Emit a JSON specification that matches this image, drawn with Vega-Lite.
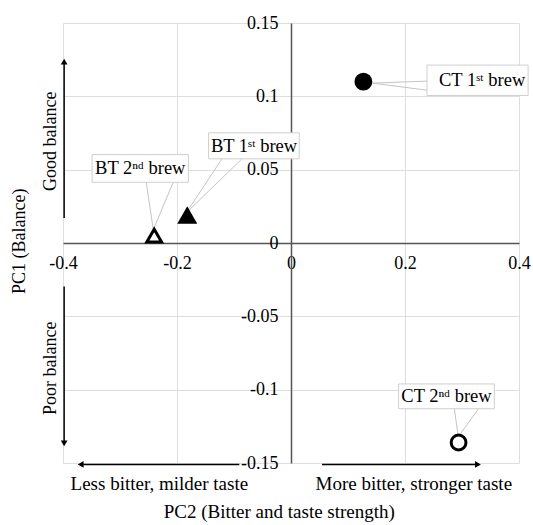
{
  "$schema": "https://vega.github.io/schema/vega-lite/v6.json",
  "width": 456,
  "height": 440,
  "autosize": {"type": "none"},
  "padding": {"left": 63, "top": 23, "right": 14, "bottom": 62},
  "config": {"view": {"stroke": null}, "font": "Liberation Serif", "axis": {"labelFont": "Liberation Serif"}},
  "datasets": {
    "points": [
      {"label": "CT 1st brew", "tea": "CT", "brew": "1st", "pc2": 0.127, "pc1": 0.110},
      {"label": "BT 1st brew", "tea": "BT", "brew": "1st", "pc2": -0.182, "pc1": 0.0186},
      {"label": "BT 2nd brew", "tea": "BT", "brew": "2nd", "pc2": -0.240, "pc1": 0.0050},
      {"label": "CT 2nd brew", "tea": "CT", "brew": "2nd", "pc2": 0.294, "pc1": -0.136}
    ],
    "boxes": [
      {"label": "BT 2nd brew", "x1": -0.349, "x2": -0.180, "y1": 0.0414, "y2": 0.0603},
      {"label": "BT 1st brew", "x1": -0.1446, "x2": 0.0145, "y1": 0.0574, "y2": 0.0751},
      {"label": "CT 1st brew", "x1": 0.2386, "x2": 0.416, "y1": 0.1006, "y2": 0.1213},
      {"label": "CT 2nd brew", "x1": 0.1888, "x2": 0.3567, "y1": -0.113, "y2": -0.0961}
    ],
    "leaders": [
      {"x1": -0.254, "y1": 0.0414, "x2": -0.2416, "y2": 0.0091},
      {"x1": -0.2065, "y1": 0.0414, "x2": -0.2416, "y2": 0.0091},
      {"x1": -0.121, "y1": 0.0574, "x2": -0.184, "y2": 0.0205},
      {"x1": -0.086, "y1": 0.0574, "x2": -0.184, "y2": 0.0205},
      {"x1": 0.2386, "y1": 0.1104, "x2": 0.143, "y2": 0.109},
      {"x1": 0.2386, "y1": 0.1042, "x2": 0.143, "y2": 0.109},
      {"x1": 0.2865, "y1": -0.113, "x2": 0.2935, "y2": -0.1321},
      {"x1": 0.329, "y1": -0.113, "x2": 0.2935, "y2": -0.1321}
    ],
    "arrows": [
      {"dir": "up", "x1": -0.398, "y1": 0.0171, "x2": -0.398, "y2": 0.1237},
      {"dir": "down", "x1": -0.398, "y1": -0.0296, "x2": -0.398, "y2": -0.1366},
      {"dir": "left", "x1": -0.0907, "y1": -0.151, "x2": -0.369, "y2": -0.151},
      {"dir": "right", "x1": 0.0544, "y1": -0.151, "x2": 0.328, "y2": -0.151}
    ],
    "callouts": [
      {"text": "BT 2ⁿᵈ brew", "x": -0.2644, "y": 0.0509},
      {"text": "BT 1ˢᵗ brew", "x": -0.0649, "y": 0.0663},
      {"text": "CT 1ˢᵗ brew", "x": 0.3353, "y": 0.1110},
      {"text": "CT 2ⁿᵈ brew", "x": 0.2728, "y": -0.1045}
    ],
    "texts": [
      {"text": "Less bitter, milder taste", "x": -0.231, "y": -0.1644},
      {"text": "More bitter, stronger taste", "x": 0.2154, "y": -0.1644},
      {"text": "PC2 (Bitter and taste strength)", "x": -0.0205, "y": -0.1835}
    ],
    "vtexts": [
      {"text": "Good balance", "x": -0.4205, "y": 0.0694},
      {"text": "Poor balance", "x": -0.4205, "y": -0.0854},
      {"text": "PC1 (Balance)", "x": -0.4753, "y": 0.0012}
    ]
  },
  "layer": [
    {
      "data": {"name": "arrows"},
      "mark": {"type": "rule", "stroke": "#000", "strokeWidth": 1.5},
      "encoding": {
        "x": {"field": "x1", "type": "quantitative",
          "scale": {"domain": [-0.4, 0.4], "nice": false, "zero": false},
          "axis": {"orient": "top", "grid": true, "gridColor": "#dedede", "gridWidth": 1, "labels": false, "ticks": false, "domain": false, "title": null, "values": [-0.4, -0.2, 0, 0.2, 0.4]}},
        "x2": {"field": "x2"},
        "y": {"field": "y1", "type": "quantitative",
          "scale": {"domain": [-0.15, 0.15], "nice": false, "zero": false},
          "axis": {"orient": "right", "grid": true, "gridColor": "#dedede", "gridWidth": 1, "labels": false, "ticks": false, "domain": false, "title": null, "values": [-0.15, -0.1, -0.05, 0, 0.05, 0.1, 0.15]}},
        "y2": {"field": "y2"}
      }
    },
    {
      "data": {"name": "arrows"},
      "mark": {"type": "point", "filled": true, "color": "#000", "size": 45, "opacity": 1},
      "encoding": {
        "x": {"field": "x2", "type": "quantitative",
          "axis": {"orient": "bottom", "offset": -220, "grid": false, "ticks": false, "tickSize": 0, "domain": true, "domainColor": "#555", "domainWidth": 1.5, "labelFont": "Liberation Serif", "labelFontSize": 18, "labelColor": "#000", "labelPadding": 11, "labelFlush": false, "labelOverlap": false, "labelExpr": "'' + datum.value", "title": null, "values": [-0.4, -0.2, 0, 0.2, 0.4]}},
        "y": {"field": "y2", "type": "quantitative",
          "axis": {"orient": "left", "offset": -228, "grid": false, "ticks": false, "tickSize": 0, "domain": true, "domainColor": "#555", "domainWidth": 1.5, "labelFont": "Liberation Serif", "labelFontSize": 18, "labelColor": "#000", "labelPadding": 13, "labelFlush": false, "labelOverlap": false, "labelExpr": "'' + datum.value", "title": null, "values": [-0.15, -0.1, -0.05, 0, 0.05, 0.1, 0.15]}},
        "shape": {"field": "dir", "type": "nominal",
          "scale": {"domain": ["up", "down", "left", "right"], "range": ["triangle-up", "triangle-down", "triangle-left", "triangle-right"]},
          "legend": null}
      }
    },
    {
      "data": {"name": "leaders"},
      "mark": {"type": "rule", "stroke": "#c4c4c4", "strokeWidth": 1},
      "encoding": {
        "x": {"field": "x1", "type": "quantitative", "axis": null},
        "x2": {"field": "x2"},
        "y": {"field": "y1", "type": "quantitative", "axis": null},
        "y2": {"field": "y2"}
      }
    },
    {
      "data": {"name": "boxes"},
      "mark": {"type": "rect", "fill": "#fff", "stroke": "#cfcfcf", "strokeWidth": 1},
      "encoding": {
        "x": {"field": "x1", "type": "quantitative", "axis": null},
        "x2": {"field": "x2"},
        "y": {"field": "y1", "type": "quantitative", "axis": null},
        "y2": {"field": "y2"}
      }
    },
    {
      "data": {"name": "callouts"},
      "mark": {"type": "text", "font": "Liberation Serif", "fontSize": 18.5, "color": "#000", "align": "center", "baseline": "middle"},
      "encoding": {
        "x": {"field": "x", "type": "quantitative", "axis": null},
        "y": {"field": "y", "type": "quantitative", "axis": null},
        "text": {"field": "text"}
      }
    },
    {
      "data": {"name": "texts"},
      "mark": {"type": "text", "font": "Liberation Serif", "fontSize": 19, "color": "#000", "align": "center", "baseline": "middle"},
      "encoding": {
        "x": {"field": "x", "type": "quantitative", "axis": null},
        "y": {"field": "y", "type": "quantitative", "axis": null},
        "text": {"field": "text"}
      }
    },
    {
      "data": {"name": "vtexts"},
      "mark": {"type": "text", "font": "Liberation Serif", "fontSize": 18, "color": "#000", "align": "center", "baseline": "middle", "angle": 270},
      "encoding": {
        "x": {"field": "x", "type": "quantitative", "axis": null},
        "y": {"field": "y", "type": "quantitative", "axis": null},
        "text": {"field": "text"}
      }
    },
    {
      "data": {"name": "points"},
      "mark": {"type": "point", "filled": true, "stroke": "#000", "strokeWidth": 3, "size": 220, "opacity": 1},
      "encoding": {
        "x": {"field": "pc2", "type": "quantitative", "axis": null},
        "y": {"field": "pc1", "type": "quantitative", "axis": null},
        "fill": {"field": "brew", "type": "nominal", "scale": {"domain": ["1st", "2nd"], "range": ["#000", "#fff"]}, "legend": null},
        "shape": {"field": "tea", "type": "nominal", "scale": {"domain": ["CT", "BT"], "range": ["circle", "triangle-up"]}, "legend": null}
      }
    }
  ],
  "resolve": {"axis": {"x": "independent", "y": "independent"}, "scale": {"shape": "independent"}}
}
